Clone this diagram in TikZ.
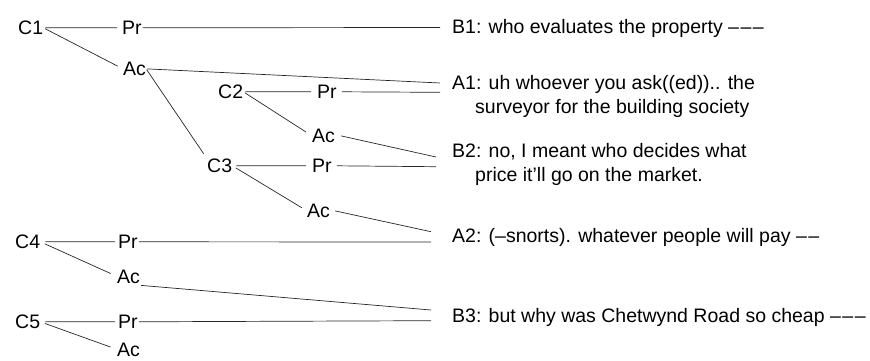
\documentclass[tikz,border=0pt]{standalone}
\usepackage{fontspec}
\setmainfont{Liberation Sans}
\newcommand{\dashrun}[1]{\foreach \i in {1,...,#1}{–\kern1.5pt}}
\begin{document}
\begin{tikzpicture}[x=1pt,y=-1pt,
    lbl/.style={anchor=base west,inner sep=0pt,font=\fontsize{19.5}{24}\selectfont},
    turn/.style={lbl,align=left},
    conn/.style={line width=0.7pt,black!85}]
\useasboundingbox (0,0) rectangle (870,360);
% moves
\node[lbl] (c1) at (18,34.5) {C1};
\node[lbl] (pr1) at (122,34.5) {Pr};
\node[lbl] (ac1) at (123,75.5) {Ac};
\node[lbl] (c2) at (218,98.5) {C2};
\node[lbl] (pr2) at (317,98.5) {Pr};
\node[lbl] (ac2) at (312,142.5) {Ac};
\node[lbl] (c3) at (207,172.5) {C3};
\node[lbl] (pr3) at (312,172.5) {Pr};
\node[lbl] (ac3) at (307,217.5) {Ac};
\node[lbl] (c4) at (15,248.5) {C4};
\node[lbl] (pr4) at (118,248.5) {Pr};
\node[lbl] (ac4) at (117,283) {Ac};
\node[lbl] (c5) at (15,328.5) {C5};
\node[lbl] (pr5) at (118,328.5) {Pr};
\node[lbl] (ac5) at (117,356) {Ac};
% turns (base = last line)
\node[turn] (b1) at (452,33.5) {B1: who evaluates the property \dashrun{3}};
\node[turn] (a1) at (452,113) {A1: uh whoever you ask((ed)).. the\\\hspace*{23pt}surveyor for the building society};
\node[turn] (b2) at (452,181) {B2: no, I meant who decides what\\\hspace*{23pt}price it’ll go on the market.};
\node[turn] (a2) at (452,242) {A2: (–snorts). whatever people will pay \dashrun{2}};
\node[turn] (b3) at (452,322) {B3: but why was Chetwynd Road so cheap \dashrun{3}};
% C1
\draw[conn] ([xshift=2pt]c1.east) -- ([xshift=-5pt]pr1.west);
\draw[conn] ([xshift=1pt]pr1.east) -- ([xshift=-12pt,yshift=6pt]b1.base west);
\draw[conn,shorten <=2pt,shorten >=6pt] (c1.east) -- (ac1.west);
\draw[conn] ([xshift=1pt]ac1.east) -- ([xshift=-12pt,yshift=30pt]a1.base west);
\draw[conn,shorten <=1pt,shorten >=6pt] (ac1.east) -- (c3.north west);
% C2
\draw[conn] ([xshift=2pt]c2.east) -- ([xshift=-6pt]pr2.west);
\draw[conn] ([xshift=5pt]pr2.east) -- ([xshift=-12pt,yshift=20.7pt]a1.base west);
\draw[conn,shorten <=2pt,shorten >=7pt] (c2.east) -- (ac2.west);
\draw[conn] ([xshift=6pt]ac2.east) -- ([xshift=-16pt,yshift=24pt]b2.base west);
% C3
\draw[conn] ([xshift=4pt]c3.east) -- ([xshift=-6pt]pr3.west);
\draw[conn] ([xshift=5pt]pr3.east) -- ([xshift=-16pt,yshift=14.3pt]b2.base west);
\draw[conn,shorten <=4pt,shorten >=6pt] (c3.east) -- (ac3.west);
\draw[conn] ([xshift=5pt]ac3.east) -- ([xshift=-21pt,yshift=10.3pt]a2.base west);
% C4
\draw[conn] ([xshift=5pt]c4.east) -- ([xshift=-3pt]pr4.west);
\draw[conn] ([xshift=1pt]pr4.east) -- ([xshift=-21pt]a2.base west);
\draw[conn,shorten <=5pt,shorten >=7pt] (c4.east) -- (ac4.west);
\draw[conn] ([shift={(1pt,-2pt)}]ac4.south east) -- ([xshift=-21pt,yshift=12pt]b3.base west);
% C5
\draw[conn] ([xshift=5pt]c5.east) -- ([xshift=-3pt]pr5.west);
\draw[conn] ([xshift=1pt]pr5.east) -- ([xshift=-21pt,yshift=1.3pt]b3.base west);
\draw[conn,shorten <=5pt,shorten >=7pt] (c5.east) -- (ac5.west);
\end{tikzpicture}
\end{document}
